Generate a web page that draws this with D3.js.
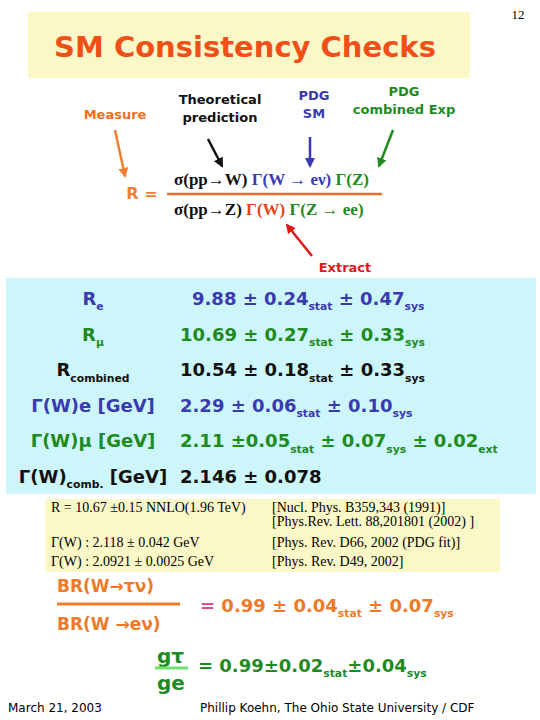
<!DOCTYPE html>
<html lang="en">
<head>
<meta charset="UTF-8">
<title>SM Consistency Checks</title>
<style>
  body { margin: 0; background: #fff; }
  .sans { font-family: "DejaVu Sans", sans-serif; font-weight: bold; }
  .serif { font-family: "Liberation Serif", serif; }
</style>
</head>
<body>
<div id="slide"></div>
<script src="https://d3js.org/d3.v7.min.js"></script>
<script>
// rows of measured results: label segments, value segments, colour
const rowLabels = [
  [["R"], ["e", "sub"]],
  [["R"], ["μ", "sub"]],
  [["R"], ["combined", "sub"]],
  [["Γ(W)e [GeV]"]],
  [["Γ(W)μ [GeV]"]],
  [["Γ(W)"], ["comb.", "sub"], [" [GeV]"]]
];
const rowValues = [
  [["9.88 ± 0.24"], ["stat", "sub"], [" ± 0.47"], ["sys", "sub"]],
  [["10.69 ± 0.27"], ["stat", "sub"], [" ± 0.33"], ["sys", "sub"]],
  [["10.54 ± 0.18"], ["stat", "sub"], [" ± 0.33"], ["sys", "sub"]],
  [["2.29 ± 0.06"], ["stat", "sub"], [" ± 0.10"], ["sys", "sub"]],
  [["2.11 ±0.05"], ["stat", "sub"], ["  ± 0.07"], ["sys", "sub"], ["  ± 0.02"], ["ext", "sub"]],
  [["2.146 ± 0.078"]]
];
const rowColors = ["#3a3ab0", "#1f8a1f", "#111", "#3a3ab0", "#1f8a1f", "#111"];
const valueX = [192, 180, 180, 180, 180, 180];

// reference inputs
const refLeft = ["R = 10.67 ±0.15 NNLO(1.96 TeV)", "", "Γ(W) : 2.118 ± 0.042 GeV", "Γ(W) : 2.0921 ± 0.0025 GeV"];
const refRight = ["[Nucl. Phys. B359,343 (1991)]", "[Phys.Rev. Lett. 88,201801 (2002) ]", "[Phys. Rev. D66, 2002 (PDG fit)]", "[Phys. Rev. D49, 2002]"];

// annotation labels above the ratio
const notes = [
  {lines: ["Measure"], x: 115, y: 119, color: "#f07020"},
  {lines: ["Theoretical", "prediction"], x: 220, y: 104, color: "#111"},
  {lines: ["PDG", "SM"], x: 314, y: 100, color: "#3a3ab0"},
  {lines: ["PDG", "combined Exp"], x: 404, y: 96, color: "#1f8a1f"},
  {lines: ["Extract"], x: 345, y: 272, color: "#e01818"}
];
const arrows = [
  {from: [115, 130], to: [125, 176], color: "#f08030"},
  {from: [208, 139], to: [222, 166], color: "#111"},
  {from: [310, 137], to: [310, 166], color: "#3a3ab0"},
  {from: [393, 130], to: [379, 166], color: "#1f8a1f"},
  {from: [312, 256], to: [287, 225], color: "#e01818"}
];

const svg = d3.select("#slide").append("svg")
  .attr("width", 540).attr("height", 720);

const defs = svg.append("defs");
arrows.forEach((a, i) => {
  defs.append("marker").attr("id", "ah" + i)
    .attr("viewBox", "0 0 10 10").attr("refX", 8).attr("refY", 5)
    .attr("markerWidth", 4).attr("markerHeight", 4).attr("orient", "auto")
    .append("path").attr("d", "M0,0L10,5L0,10z").attr("fill", a.color);
});

function rich(g, segs, x, y, size, color, cls, anchor) {
  const t = g.append("text").attr("x", x).attr("y", y).attr("class", cls)
    .attr("fill", color).attr("font-size", size).attr("text-anchor", anchor || "start");
  segs.forEach((s, i) => {
    const sp = t.append("tspan").text(s[0]);
    if (s[1] === "sub") sp.attr("font-size", size * 0.6).attr("dy", size * 0.3);
    else if (i > 0 && segs[i - 1][1] === "sub") sp.attr("dy", -size * 0.3);
  });
  return t;
}

// title box
svg.append("rect").attr("x", 28).attr("y", 12).attr("width", 442).attr("height", 66).attr("fill", "#fbf8c8");
svg.append("text").attr("class", "sans").attr("x", 245).attr("y", 57).attr("text-anchor", "middle")
  .attr("font-size", 29).attr("fill", "#f05018").attr("font-weight", "normal").text("SM Consistency Checks");
svg.append("text").attr("x", 518).attr("y", 19).attr("class", "serif").attr("font-size", 13).attr("text-anchor", "middle").text("12");

// annotations
notes.forEach(n => {
  n.lines.forEach((l, i) => svg.append("text").attr("class", "sans").attr("x", n.x).attr("y", n.y + i * 18)
    .attr("text-anchor", "middle").attr("font-size", 13).attr("fill", n.color).text(l));
});
arrows.forEach((a, i) => svg.append("line")
  .attr("x1", a.from[0]).attr("y1", a.from[1]).attr("x2", a.to[0]).attr("y2", a.to[1])
  .attr("stroke", a.color).attr("stroke-width", 2.5).attr("marker-end", `url(#ah${i})`));

// ratio R
svg.append("text").attr("class", "sans").attr("x", 142).attr("y", 199).attr("text-anchor", "middle")
  .attr("font-size", 16).attr("fill", "#f08030").text("R  =");
const num = svg.append("text").attr("class", "serif").attr("x", 174).attr("y", 185).attr("font-size", 17).attr("font-weight", "bold");
num.append("tspan").attr("fill", "#111").text("σ(pp→W) ");
num.append("tspan").attr("fill", "#3a3ab0").text("Γ(W → eν) ");
num.append("tspan").attr("fill", "#1f8a1f").text("Γ(Z)");
svg.append("line").attr("x1", 167).attr("x2", 382).attr("y1", 194).attr("y2", 194).attr("stroke", "#e07030").attr("stroke-width", 2.5);
const den = svg.append("text").attr("class", "serif").attr("x", 174).attr("y", 215).attr("font-size", 17).attr("font-weight", "bold");
den.append("tspan").attr("fill", "#111").text("σ(pp→Z) ");
den.append("tspan").attr("fill", "#e04818").text("Γ(W) ");
den.append("tspan").attr("fill", "#1f8a1f").text("Γ(Z → ee)");

// results box
svg.append("rect").attr("x", 6).attr("y", 278).attr("width", 530).attr("height", 216).attr("fill", "#ccf6fa");
const rowY = d3.scalePoint().domain(d3.range(rowLabels.length)).range([305, 483]);
rowLabels.forEach((segs, i) => {
  const t = rich(svg, segs, 93, rowY(i), 18, rowColors[i], "sans", "middle");
  if (i < 2) t.attr("font-weight", "normal");
});
rowValues.forEach((segs, i) => rich(svg, segs, valueX[i], rowY(i), 18, rowColors[i], "sans"));

// reference box
svg.append("rect").attr("x", 45).attr("y", 499).attr("width", 455).attr("height", 73).attr("fill", "#fbf8c8");
const refY = [512, 526, 547, 566];
refLeft.forEach((s, i) => s && svg.append("text").attr("class", "serif").attr("x", 51).attr("y", refY[i])
  .attr("font-size", 14).text(s));
refRight.forEach((s, i) => svg.append("text").attr("class", "serif").attr("x", 272).attr("y", refY[i])
  .attr("font-size", 14).text(s));

// BR ratio
const orange = "#ee7a2a", green = "#1f8a1f";
svg.append("text").attr("class", "sans").attr("x", 57).attr("y", 592).attr("font-size", 17).attr("fill", orange).attr("font-weight", "normal").text("BR(W→τν)");
svg.append("line").attr("x1", 57).attr("x2", 180).attr("y1", 604).attr("y2", 604).attr("stroke", orange).attr("stroke-width", 3);
svg.append("text").attr("class", "sans").attr("x", 57).attr("y", 630).attr("font-size", 17).attr("fill", orange).attr("font-weight", "normal").text("BR(W →eν)");
const br = rich(svg, [["= "], ["0.99 ± 0.04"], ["stat", "sub"], [" ± 0.07"], ["sys", "sub"]], 200, 612, 18, orange, "sans");
br.select("tspan").attr("fill", "#e04890");

// coupling ratio
svg.append("text").attr("class", "sans").attr("x", 157).attr("y", 663).attr("font-size", 20).attr("fill", green).attr("font-weight", "normal").text("gτ");
svg.append("line").attr("x1", 155).attr("x2", 188).attr("y1", 668).attr("y2", 668).attr("stroke", "#70e070").attr("stroke-width", 3);
svg.append("text").attr("class", "sans").attr("x", 157).attr("y", 690).attr("font-size", 20).attr("fill", green).attr("font-weight", "normal").text("ge");
rich(svg, [["=  0.99±0.02"], ["stat", "sub"], ["±0.04"], ["sys", "sub"]], 198, 672, 18, green, "sans");

// footer
svg.append("text").attr("font-family", "DejaVu Sans").attr("x", 8).attr("y", 712).attr("font-size", 12).text("March 21, 2003");
svg.append("text").attr("font-family", "DejaVu Sans").attr("x", 200).attr("y", 712).attr("font-size", 12).text("Phillip Koehn, The Ohio State University / CDF");
</script>
</body>
</html>
